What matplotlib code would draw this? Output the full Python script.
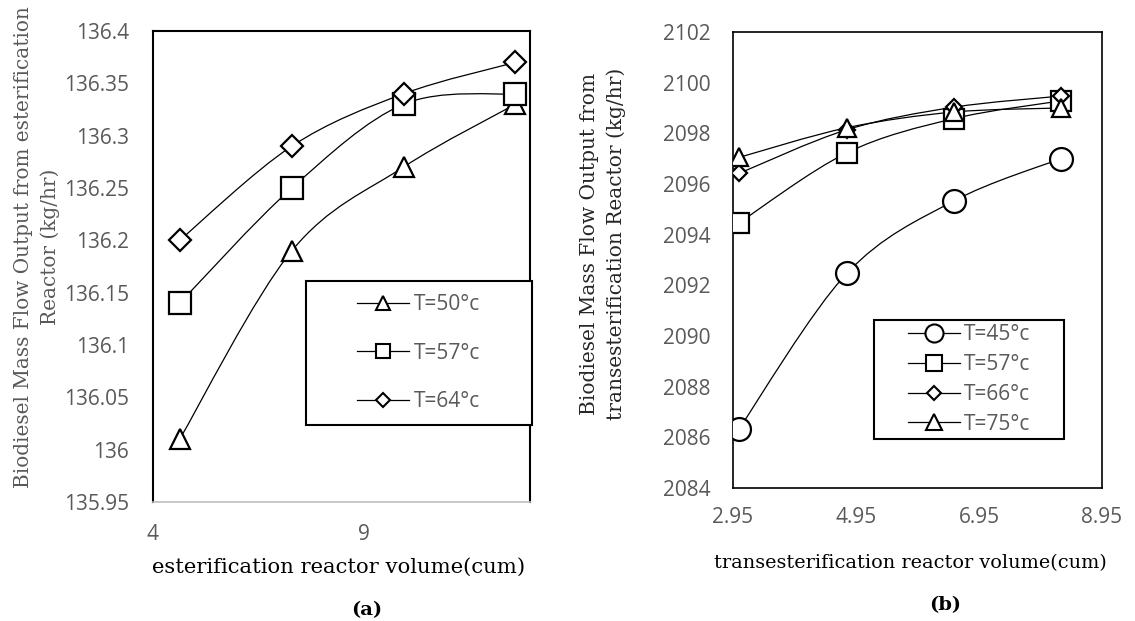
import numpy as np
import matplotlib
matplotlib.use('Agg')
import matplotlib.pyplot as plt
from matplotlib.path import Path
from matplotlib.patches import PathPatch, Rectangle
from matplotlib.lines import Line2D

# (a) esterification reactor
vol_a = [4.64, 7.30, 9.95, 12.60]
t50_a = [136.01, 136.19, 136.27, 136.33]
t57_a = [136.14, 136.25, 136.33, 136.34]
t64_a = [136.20, 136.29, 136.34, 136.37]
labels_a = ['T=50°c', 'T=57°c', 'T=64°c']
yticks_a = [135.95, 136.0, 136.05, 136.1, 136.15, 136.2, 136.25, 136.3, 136.35, 136.4]
yticklabels_a = ['135.95', '136', '136.05', '136.1', '136.15', '136.2', '136.25', '136.3', '136.35', '136.4']
xticks_a = [4, 9]

# (b) transesterification reactor
vol_b = [3.05, 4.80, 6.54, 8.28]
t45_b = [2086.34, 2092.47, 2095.33, 2097.0]
t57_b = [2094.47, 2097.23, 2098.58, 2099.28]
t66_b = [2096.42, 2098.14, 2099.03, 2099.47]
t75_b = [2097.05, 2098.22, 2098.84, 2099.0]
labels_b = ['T=45°c', 'T=57°c', 'T=66°c', 'T=75°c']
yticks_b = [2084, 2086, 2088, 2090, 2092, 2094, 2096, 2098, 2100, 2102]
xticks_b = [2.95, 4.95, 6.95, 8.95]

GRAY = '#595959'
SANS = 'Open Sans'
SERIF = 'DejaVu Serif'


def smooth_path(x, y):
    # courbe lissée type Excel (Catmull-Rom -> Bezier)
    pts = np.column_stack([x, y])
    n = len(pts)
    verts = [pts[0]]
    codes = [Path.MOVETO]
    for i in range(n - 1):
        p0 = pts[max(i - 1, 0)]
        p1 = pts[i]
        p2 = pts[i + 1]
        p3 = pts[min(i + 2, n - 1)]
        verts += [p1 + (p2 - p0) / 6, p2 - (p3 - p1) / 6, p2]
        codes += [Path.CURVE4] * 3
    return Path(verts, codes)


def draw_series(ax, x, y, marker, ms):
    ax.add_patch(PathPatch(smooth_path(x, y), fill=False, lw=0.9, edgecolor='black', zorder=2))
    ax.plot(x, y, ls='none', marker=marker, ms=ms, mfc='white', mec='black', mew=1.6, zorder=3)


def style_ticks(ax, xpad, ypad):
    ax.tick_params(length=0, labelsize=15, labelcolor=GRAY, pad=0)
    ax.tick_params(axis='x', pad=xpad)
    ax.tick_params(axis='y', pad=ypad)
    for t in ax.get_xticklabels() + ax.get_yticklabels():
        t.set_fontfamily(SANS)


fig = plt.figure(figsize=(11.35, 6.21), dpi=100)

# ---- panel (a)
ax1 = fig.add_axes([0.1345, 0.1916, 0.3325, 0.7585])
draw_series(ax1, vol_a, t50_a, '^', 14.5)
draw_series(ax1, vol_a, t57_a, 's', 15.5)
draw_series(ax1, vol_a, t64_a, 'D', 11.2)
ax1.set_xlim(4, 12.95)
ax1.set_ylim(135.95, 136.4)
ax1.set_xticks(xticks_a)
ax1.set_xticklabels([str(v) for v in xticks_a])
ax1.set_yticks(yticks_a)
ax1.set_yticklabels(yticklabels_a)
style_ticks(ax1, 16, 17)
for s in ['left', 'top', 'right']:
    ax1.spines[s].set_linewidth(1.5)
ax1.spines['bottom'].set_color('#bfbfbf')
ax1.spines['bottom'].set_linewidth(1.2)

handles_a = [
    Line2D([], [], color='black', lw=0.9, marker='^', ms=10, mfc='white', mec='black', mew=1.5),
    Line2D([], [], color='black', lw=0.9, marker='s', ms=10, mfc='white', mec='black', mew=1.5),
    Line2D([], [], color='black', lw=0.9, marker='D', ms=7.2, mfc='white', mec='black', mew=1.5),
]
ax1.add_patch(Rectangle((0.406, 0.163), 0.599, 0.306, transform=ax1.transAxes, fill=True,
                        facecolor='white', edgecolor='black', lw=1.5, clip_on=False, zorder=4))
leg1 = ax1.legend(handles_a, labels_a, loc='center', bbox_to_anchor=(0.705, 0.316), frameon=False,
                  prop={'family': SANS, 'size': 15}, labelcolor=GRAY, handlelength=2.5,
                  handletextpad=0.25, labelspacing=1.32)
leg1.set_zorder(5)

fig.text(37 / 1135, 1 - 247 / 621, 'Biodiesel Mass Flow Output from esterification\nReactor (kg/hr)',
         rotation=90, ha='center', va='center', multialignment='center', linespacing=1.5,
         family=SERIF, fontsize=14.4, color=GRAY)
fig.text(339 / 1135, 1 - 567 / 621, 'esterification reactor volume(cum)', ha='center', va='center',
         family=SERIF, fontsize=15.2, color='black')
fig.text(367 / 1135, 1 - 610 / 621, '(a)', ha='center', va='center', family=SERIF,
         fontsize=14, fontweight='bold', color='black')

# ---- panel (b)
ax2 = fig.add_axes([0.6458, 0.2142, 0.3251, 0.7343])
draw_series(ax2, vol_b, t45_b, 'o', 16.5)
draw_series(ax2, vol_b, t57_b, 's', 14)
draw_series(ax2, vol_b, t66_b, 'D', 8)
draw_series(ax2, vol_b, t75_b, '^', 13)
ax2.set_xlim(2.95, 8.95)
ax2.set_ylim(2084, 2102)
ax2.set_xticks(xticks_b)
ax2.set_xticklabels([f'{v:.2f}' for v in xticks_b])
ax2.set_yticks(yticks_b)
ax2.set_yticklabels([str(v) for v in yticks_b])
style_ticks(ax2, 13.5, 16)
for s in ax2.spines.values():
    s.set_linewidth(1.2)

handles_b = [
    Line2D([], [], color='black', lw=0.9, marker='o', ms=13, mfc='white', mec='black', mew=1.5),
    Line2D([], [], color='black', lw=0.9, marker='s', ms=11, mfc='white', mec='black', mew=1.5),
    Line2D([], [], color='black', lw=0.9, marker='D', ms=7.6, mfc='white', mec='black', mew=1.5),
    Line2D([], [], color='black', lw=0.9, marker='^', ms=11.5, mfc='white', mec='black', mew=1.5),
]
ax2.add_patch(Rectangle((0.382, 0.1075), 0.515, 0.2605, transform=ax2.transAxes, fill=True,
                        facecolor='white', edgecolor='black', lw=1.5, clip_on=False, zorder=4))
leg2 = ax2.legend(handles_b, labels_b, loc='center', bbox_to_anchor=(0.6395, 0.2378), frameon=False,
                  prop={'family': SANS, 'size': 15}, labelcolor=GRAY, handlelength=2.5,
                  handletextpad=0.2, labelspacing=0.42)
leg2.set_zorder(5)

fig.text(603 / 1135, 1 - 244 / 621, 'Biodiesel Mass Flow Output from\ntransesterification Reactor (kg/hr)',
         rotation=90, ha='center', va='center', multialignment='center', linespacing=1.5,
         family=SERIF, fontsize=14.5, color='#262626')
fig.text(910 / 1135, 1 - 563 / 621, 'transesterification reactor volume(cum)', ha='center', va='center',
         family=SERIF, fontsize=13.9, color='black')
fig.text(945 / 1135, 1 - 605 / 621, '(b)', ha='center', va='center', family=SERIF,
         fontsize=14, fontweight='bold', color='black')

fig.savefig('out.png', dpi=100)
